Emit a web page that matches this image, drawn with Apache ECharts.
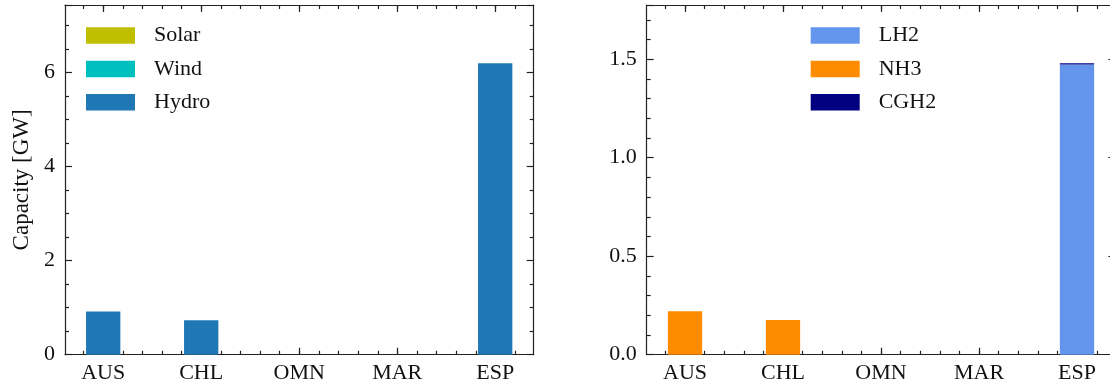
<!DOCTYPE html>
<html>
<head>
<meta charset="utf-8">
<script src="https://cdn.jsdelivr.net/npm/echarts@6.0.0/dist/echarts.min.js"></script>
<style>
html, body { margin: 0; padding: 0; background: #fff; }
#chart { width: 1110px; height: 388px; }
</style>
</head>
<body>
<div id="chart"></div>
<script>
// data
const countries = ['AUS', 'CHL', 'OMN', 'MAR', 'ESP'];
const solar = [0, 0, 0, 0, 0];
const wind = [0, 0, 0, 0, 0];
const hydro = [0.92, 0.73, 0, 0, 6.19];
const lh2 = [0, 0, 0, 0, 1.473];
const nh3 = [0.221, 0.176, 0, 0, 0];
const cgh2 = [0, 0, 0, 0, 0.006];
const leftTicks = [0, 2, 4, 6];
const rightTicks = [0, 0.5, 1.0, 1.5];

const font = 'Liberation Serif';
const ink = '#111';
const axisColor = '#222';

const majorX = countries.map((c, i) => i);
let minorX = [];
for (let k = -1; k <= 21; k++) {
    minorX.push(Math.round(k * 2) / 10);
}

// frame: value x axes only carry the ticks (bottom + top, major + minor)
function makeFrameX(gridIndex) {
    function one(position, ticks, len, line) {
        return {
            type: 'value',
            gridIndex: gridIndex,
            position: position,
            min: -0.39,
            max: 4.39,
            splitLine: { show: false },
            axisLabel: { show: false },
            axisLine: { show: line, onZero: false, lineStyle: { color: axisColor, width: 1.2 } },
            axisTick: { show: true, inside: true, length: len, customValues: ticks, lineStyle: { color: axisColor, width: 1.2 } }
        };
    }
    return [
        one('bottom', majorX, 7, true),
        one('bottom', minorX, 4, false),
        one('top', majorX, 7, true),
        one('top', minorX, 4, false)
    ];
}

function makeFrameY(gridIndex, max, interval, ticks, digits, name) {
    const common = {
        type: 'value',
        gridIndex: gridIndex,
        min: 0,
        max: max,
        interval: interval,
        splitLine: { show: false },
        axisLine: { show: true, onZero: false, lineStyle: { color: axisColor, width: 1.2 } },
        axisTick: { show: true, inside: true, length: 7, lineStyle: { color: axisColor, width: 1.2 } },
        minorTick: { show: true, splitNumber: interval === 2 ? 4 : 5, length: 4, lineStyle: { color: axisColor, width: 1.2 } }
    };
    const left = Object.assign({}, common, {
        position: 'left',
        name: name,
        nameLocation: 'middle',
        nameGap: 32,
        nameTextStyle: { fontFamily: font, fontSize: 23, color: ink },
        axisLabel: {
            customValues: ticks,
            margin: 10,
            fontFamily: font,
            fontSize: 22,
            color: ink,
            formatter: v => v.toFixed(digits)
        }
    });
    const right = Object.assign({}, common, {
        position: 'right',
        axisLabel: { show: false }
    });
    return [left, right];
}

// bars sit on a category axis whose bands line up with the frame ticks
function makeBarX(gridIndex) {
    return {
        type: 'category',
        gridIndex: gridIndex,
        data: countries,
        position: 'bottom',
        axisLine: { show: false },
        axisTick: { show: false },
        splitLine: { show: false },
        axisLabel: { interval: 0, margin: 8, fontFamily: font, fontSize: 22, color: ink }
    };
}

function makeBarY(gridIndex, max) {
    return { type: 'value', gridIndex: gridIndex, min: 0, max: max, show: false, splitLine: { show: false } };
}

function bar(name, values, color, xi, yi) {
    return {
        type: 'bar',
        name: name,
        stack: 'panel' + xi,
        xAxisIndex: xi,
        yAxisIndex: yi,
        barWidth: 34.3,
        itemStyle: { color: color },
        data: values
    };
}

function legend(names, left) {
    return {
        data: names,
        orient: 'vertical',
        left: left,
        top: 19.5,
        icon: 'rect',
        itemWidth: 49,
        itemHeight: 16.5,
        itemGap: 11.4,
        selectedMode: false,
        textStyle: { fontFamily: font, fontSize: 22, color: ink, padding: [0, 0, 0, 14] }
    };
}

const maxLeft = 7.43;
const maxRight = 1.775;

const chart = echarts.init(document.getElementById('chart'));
const option = {
    animation: false,
    backgroundColor: '#fff',
    grid: [
        { left: 65, top: 5, width: 468.7, height: 349.7, outerBoundsMode: 'none' },
        { left: 646.7, top: 5, width: 468.7, height: 349.7, outerBoundsMode: 'none' },
        { left: 54.2, top: 5, width: 490, height: 349.7, outerBoundsMode: 'none' },
        { left: 636, top: 5, width: 490, height: 349.7, outerBoundsMode: 'none' }
    ],
    legend: [
        legend(['Solar', 'Wind', 'Hydro'], 81),
        legend(['LH2', 'NH3', 'CGH2'], 805.7)
    ],
    xAxis: makeFrameX(0).concat(makeFrameX(1), [makeBarX(2), makeBarX(3)]),
    yAxis: makeFrameY(0, maxLeft, 2, leftTicks, 0, 'Capacity [GW]')
        .concat(makeFrameY(1, maxRight, 0.5, rightTicks, 1, ''), [makeBarY(2, maxLeft), makeBarY(3, maxRight)]),
    series: [
        bar('Solar', solar, '#bfbf00', 8, 4),
        bar('Wind', wind, '#00bfbf', 8, 4),
        bar('Hydro', hydro, '#1f77b4', 8, 4),
        bar('LH2', lh2, '#6495ed', 9, 5),
        bar('NH3', nh3, '#ff8c00', 9, 5),
        bar('CGH2', cgh2, '#000080', 9, 5)
    ]
};
chart.setOption(option);
</script>
</body>
</html>
